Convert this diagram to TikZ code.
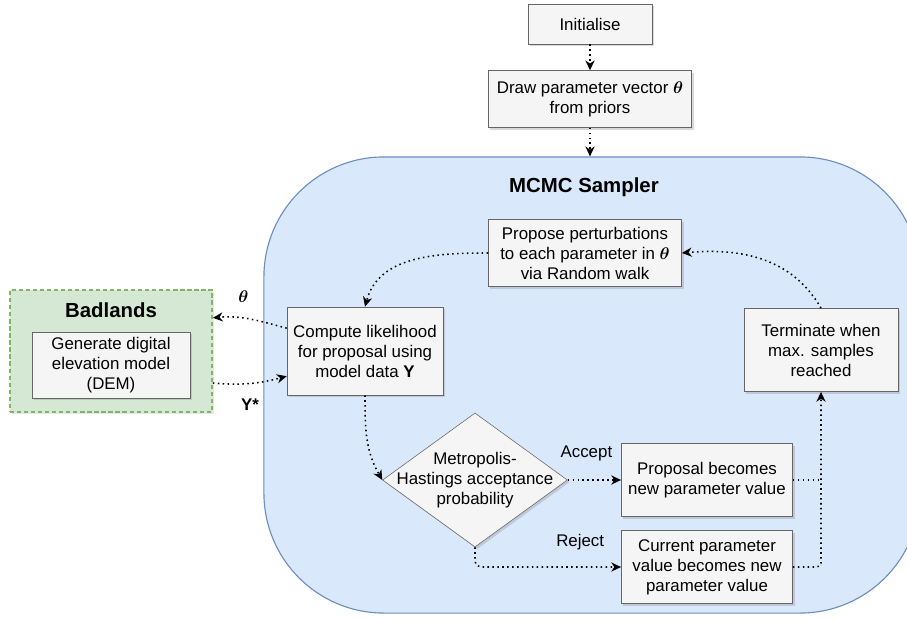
\documentclass[tikz,border=0pt]{standalone}
\usepackage{amsmath}
\usepackage{fontspec}
\setmainfont{Liberation Sans}
\usepackage{tikz}
\usetikzlibrary{shapes.geometric, arrows.meta, positioning, shadows}
\usepackage{xcolor}
\definecolor{boxfill}{HTML}{F5F5F5}
\definecolor{boxline}{HTML}{666666}
\definecolor{mcmcfill}{HTML}{DAE8FC}
\definecolor{mcmcline}{HTML}{6C8EBF}
\definecolor{badfill}{HTML}{D5E8D4}
\definecolor{badline}{HTML}{82B366}

\begin{document}
\begin{tikzpicture}[
    x=0.025cm, y=-0.025cm,
    font=\fontsize{12}{14.2}\selectfont,
    block/.style={rectangle, draw=boxline, fill=boxfill, align=center, inner sep=2pt,
        drop shadow={shadow xshift=1.5pt, shadow yshift=-1.5pt, opacity=0.3}},
    decision/.style={diamond, draw=boxline, fill=boxfill, minimum width=4.62cm, minimum height=3.35cm, inner sep=0pt,
        drop shadow={shadow xshift=1.5pt, shadow yshift=-1.5pt, opacity=0.3}},
    container/.style={rectangle, rounded corners=3cm, draw=mcmcline, fill=mcmcfill, line width=0.8pt},
    badland/.style={rectangle, draw=badline, fill=badfill, line width=1.2pt, dash pattern=on 3pt off 2pt,
        drop shadow={shadow xshift=1.5pt, shadow yshift=-1.5pt, opacity=0.2}},
    title/.style={font=\bfseries\fontsize{14.5}{17}\selectfont},
    flow/.style={-{Stealth[length=7pt, width=6.5pt, inset=2.2pt]}, line width=1.1pt, dash pattern=on 1.1pt off 2.4pt},
    link/.style={line width=1.1pt, dash pattern=on 1.1pt off 2.4pt}
]
    \path[use as bounding box, clip] (0,0) rectangle (907,619);

    % sampler container
    \node [container, minimum width=16.4cm, minimum height=11.4cm] (mcmc) at (592,385) {};
    \node [title] (mcmctitle) at (584,187) {MCMC Sampler};

    \node [block, minimum width=3.1cm, minimum height=1cm] (init) at (590,24) {Initialise};
    \node [block, minimum width=5.08cm, minimum height=1.42cm] (draw) at (590,99) {Draw parameter vector $\boldsymbol{\theta}$\\from priors};
    \node [block, minimum width=4.83cm, minimum height=1.68cm] (prop) at (585,253) {Propose perturbations\\to each parameter in $\boldsymbol{\theta}$\\via Random walk};
    \node [block, minimum width=3.9cm, minimum height=2.2cm] (comp) at (365,351) {Compute likelihood\\for proposal using\\model data \textbf{Y}};
    \node [block, minimum width=3.85cm, minimum height=2.08cm] (term) at (821,350) {Terminate when\\max. samples\\reached};
    \node [decision] (mh) at (475,480) {};
    \node [align=center] (mhtext) at (mh.center) {Metropolis-\\Hastings acceptance\\probability};
    \node [block, minimum width=4.28cm, minimum height=1.83cm] (acc) at (707,480) {Proposal becomes\\new parameter value};
    \node [block, minimum width=4.28cm, minimum height=1.83cm] (cur) at (707,567) {Current parameter\\value becomes new\\parameter value};

    % landscape model
    \node [badland, minimum width=5.05cm, minimum height=3.05cm] (badl) at (111,351) {};
    \node [title] (badltitle) at (111,310) {Badlands};
    \node [block, minimum width=3.95cm, minimum height=1.65cm] (dem) at (111,365) {Generate digital\\elevation model\\(DEM)};

    \draw [flow] (init) -- (draw);
    \draw [flow] (draw) -- (draw.south |- mcmc.north);
    \draw [flow] (prop.west) to[out=180, in=75] (comp.north);
    \draw [flow] (term.north) to[out=120, in=5] (prop.east);
    \draw [flow] ([yshift=0.57cm]comp.west) to[out=165, in=5] node[above=0.25cm, pos=0.6] {$\boldsymbol{\theta}$} ([yshift=0.83cm]badl.east);
    \draw [flow] ([yshift=-0.8cm]badl.east) to[out=-5, in=195] node[below=0.25cm, pos=0.5] {\textbf{Y*}} ([yshift=-0.63cm]comp.west);
    \draw [flow] (comp.south) to[out=-90, in=120] (mh.west);
    \draw [flow] (mh.east) -- node[above=0.33cm, pos=0.35] {Accept} (acc.west);
    \draw [flow, rounded corners=4pt] (mh.south) |- node[above=0.28cm, pos=0.86] {Reject} (cur.west);
    \coordinate (join) at (acc.east -| term.south);
    \draw [link] (acc.east) -- (join);
    \draw [flow, rounded corners=3pt] (cur.east) -| (term.south);
\end{tikzpicture}
\end{document}
